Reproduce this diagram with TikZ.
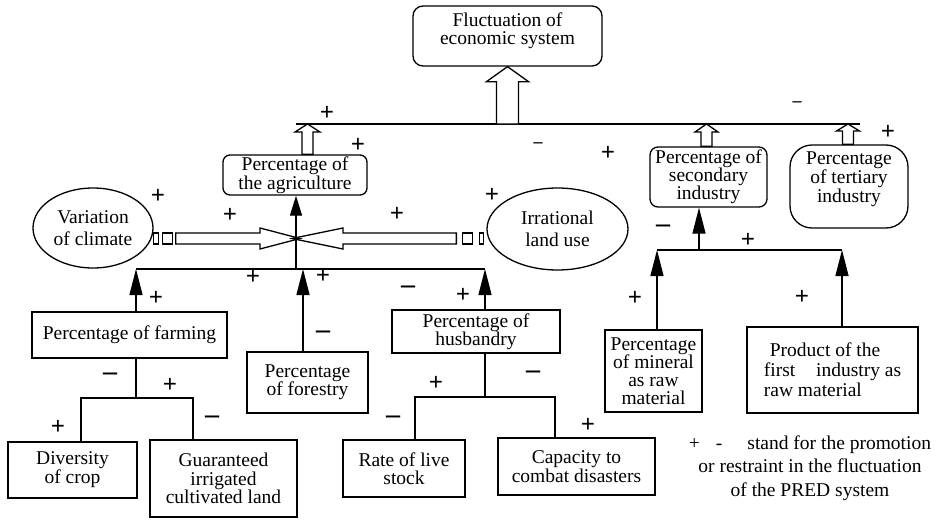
\documentclass[tikz,border=0pt]{standalone}
\usepackage{fontspec}
\setmainfont{Liberation Serif}
\usetikzlibrary{arrows.meta,calc,shapes.geometric}
\newcommand\stk[1]{\begin{tabular}{@{}c@{}}#1\end{tabular}}
\newcommand\liftup[2]{\raisebox{0pt}[\height][\dimexpr\depth+#1\relax]{#2}}
\newcommand\hollowup[5]{\draw[hollow] let \p1=(#1), \p2=(#2) in
  (\x1-#5,\y1) -- (\x1-#5,\y2-#4) -- (\x1-#3,\y2-#4) -- (\x1,\y2) --
  (\x1+#3,\y2-#4) -- (\x1+#5,\y2-#4) -- (\x1+#5,\y1) -- cycle;}
\begin{document}
\begin{tikzpicture}[x=1pt,y=-1pt,
  every node/.style={font=\fontsize{19.5}{18}\selectfont},
  box/.style={draw,line width=1.3pt,inner sep=0pt,align=center},
  rbox/.style={box,rounded corners=8pt},
  oval/.style={draw,line width=1.3pt,ellipse,inner sep=0pt,align=center},
  conn/.style={line width=1.3pt},
  farrow/.style={conn,-{Triangle[width=13pt,length=26pt]}},
  hollow/.style={draw,line width=1.3pt,fill=white,line join=miter},
  hollowx/.style={draw,line width=1.3pt,line join=miter},
  sq/.style={draw,line width=1.2pt,fill=white},
  sgn/.style={font=\fontsize{25}{25}\selectfont\bfseries,inner sep=0pt},
  dsh/.style={font=\fontsize{28}{28}\selectfont\bfseries,inner sep=0pt},
  sdsh/.style={font=\fontsize{18}{18}\selectfont\bfseries,inner sep=0pt},
]
\fill[white] (0,0) rectangle (939,519);

% boxes
\node[rbox,rounded corners=10pt,minimum width=189pt,minimum height=60pt] (top) at (507.5,36)
  {\liftup{10pt}{\stk{Fluctuation of\\economic system}}};
\node[rbox,rounded corners=7pt,minimum width=144pt,minimum height=40pt,font=\fontsize{19.5}{16}\selectfont] (agr) at (295,175)
  {Percentage of\\the agriculture};
\node[rbox,minimum width=117pt,minimum height=60pt] (sec) at (708.5,177)
  {Percentage of\\secondary\\industry};
\node[rbox,rounded corners=22pt,minimum width=118pt,minimum height=83pt] (ter) at (849,186.5)
  {\liftup{14pt}{\stk{Percentage\\of tertiary\\industry}}};
\node[oval,minimum width=120pt,minimum height=80pt,font=\fontsize{19.5}{22}\selectfont] (clim) at (93,228)
  {Variation\\of climate};
\node[oval,minimum width=141pt,minimum height=82pt,font=\fontsize{19.5}{22}\selectfont] (irr) at (557.5,229)
  {Irrational\\land use};
\node[box,minimum width=195pt,minimum height=46pt] (farm) at (129.5,335) {Percentage of farming};
\node[box,minimum width=121pt,minimum height=61pt] (for) at (307.5,382.5) {Percentage\\of forestry};
\node[box,minimum width=168pt,minimum height=43pt] (hus) at (476,331.5) {Percentage of\\husbandry};
\node[box,minimum width=129pt,minimum height=56pt,font=\fontsize{19.5}{19}\selectfont] (div) at (72.5,470) {Diversity\\of crop};
\node[box,minimum width=147pt,minimum height=77pt,font=\fontsize{19.5}{18.5}\selectfont] (gua) at (223.5,478.5) {Guaranteed\\irrigated\\cultivated land};
\node[box,minimum width=122pt,minimum height=57pt,font=\fontsize{19.5}{18}\selectfont] (rate) at (404,468.5) {Rate of live\\stock};
\node[box,minimum width=157pt,minimum height=57pt,font=\fontsize{19.5}{17}\selectfont] (cap) at (576.5,466.5) {Capacity to\\combat disasters};
\node[box,minimum width=97pt,minimum height=82pt] (min) at (653.5,371) {Percentage\\of mineral\\as raw\\material};
\node[box,align=left,minimum width=171pt,minimum height=86pt,font=\fontsize{19.5}{20}\selectfont] (prod) at (832.5,370)
  {\hspace*{6pt}Product of the\\first\hspace{16pt} industry as\\raw material};
\node[align=center,inner sep=0pt,font=\fontsize{19.5}{23.5}\selectfont] (leg) at (810,468)
  {+\hspace{16pt}-\hspace{25pt}stand for the promotion\\or restraint in the fluctuation\\of the PRED system};

% coordinates
\coordinate (L1) at (296,124);
\coordinate (L2) at (860,124);
\coordinate (J) at (296,269);
\coordinate (FL) at (136,269);
\coordinate (HR) at (485,269);
\coordinate (FO) at (303,269);
\coordinate (X) at (296,238.5);
\coordinate (D1) at (81,398);
\coordinate (D2) at (193,398);
\coordinate (E1) at (415,397);
\coordinate (E2) at (555,397);
\coordinate (G1) at (657,250);
\coordinate (G2) at (842,250);
\coordinate (GS) at (699,250);
\coordinate (aA) at ($(agr.north)+(12.5,0)$);
\coordinate (sA) at ($(sec.north)+(-2,0)$);
\coordinate (tA) at ($(ter.north)+(-1,0)$);

% main line and hollow arrows
\draw[conn] (L1) -- (L2);
\hollowup{top.south |- L1}{top.south}{21pt}{15pt}{11pt}
\hollowup{aA}{aA |- L1}{12.5pt}{8pt}{5.5pt}
\hollowup{sA}{sA |- L1}{11.5pt}{8pt}{5.5pt}
\hollowup{tA}{tA |- L1}{11.5pt}{7pt}{5.5pt}

% horizontal hollow arrows
\draw[hollowx] ($(clim.east|-X)+(22,-5.5)$) -- ($(X)+(-36,-5.5)$) -- ($(X)+(-36,-10.5)$) -- ($(X)+(4,0)$)
  -- ($(X)+(-36,10.5)$) -- ($(X)+(-36,5.5)$) -- ($(clim.east|-X)+(22,5.5)$) -- cycle;
\draw[sq] ($(clim.east|-X)+(0,-5.5)$) rectangle ++(4.5,11);
\draw[sq] ($(clim.east|-X)+(9,-5.5)$) rectangle ++(10,11);
\draw[hollowx] ($(irr.west|-X)+(-30,-5.5)$) -- ($(X)+(47,-5.5)$) -- ($(X)+(47,-10.5)$) -- ($(X)+(-4,0)$)
  -- ($(X)+(47,10.5)$) -- ($(X)+(47,5.5)$) -- ($(irr.west|-X)+(-30,5.5)$) -- cycle;
\draw[sq] ($(irr.west|-X)+(-24,-5.5)$) rectangle ++(10,11);
\draw[sq] ($(irr.west|-X)+(-7,-5.5)$) rectangle ++(4,11);

% agriculture connectors
\draw[conn,-{Triangle[width=12pt,length=20pt]}] (J) -- (J |- agr.south);
\draw[conn] (FL) -- (HR);
\draw[farrow] (farm.north -| FL) -- (FL);
\draw[farrow] (for.north -| FO) -- (FO);
\draw[farrow] (hus.north -| HR) -- (HR);

% farming subtree
\draw[conn] (farm.south -| FL) -- (FL |- D1);
\draw[conn] (div.north -| D1) |- (D2) -- (gua.north -| D2);
% husbandry subtree
\draw[conn] (hus.south -| HR) -- (HR |- E1);
\draw[conn] (rate.north -| E1) |- (E2) -- (cap.north -| E2);

% industry
\draw[conn] (G1) -- (G2);
\draw[farrow] (min.north -| G1) -- (G1);
\draw[farrow] (prod.north -| G2) -- (G2);
\draw[farrow] (GS) -- (GS |- sec.south);

% signs
\node[sgn] (s1) at (327,113) {+};
\node[sdsh] (s2) at (797,104) {–};
\node[sgn] (s3) at (358,145) {+};
\node[sdsh] (s4) at (538,145) {–};
\node[sgn] (s5) at (608,153) {+};
\node[sgn] (s6) at (888,132) {+};
\node[sgn] (s7) at (158,196) {+};
\node[sgn] (s8) at (492,195) {+};
\node[sgn] (s9) at (230,215) {+};
\node[sgn] (s10) at (397,214) {+};
\node[sgn] (s11) at (253,277) {+};
\node[sgn] (s12) at (323,276) {+};
\node[sgn] (s13) at (156,298) {+};
\node[dsh] (s14) at (408,290) {–};
\node[sgn] (s15) at (463,295) {+};
\node[dsh] (s16) at (323,335) {–};
\node[dsh] (s17) at (110,377) {–};
\node[sgn] (s18) at (170,385) {+};
\node[sgn] (s19) at (58,427) {+};
\node[dsh] (s20) at (212,420) {–};
\node[sgn] (s21) at (436,383) {+};
\node[dsh] (s22) at (533,375) {–};
\node[dsh] (s23) at (393,420) {–};
\node[sgn] (s24) at (588,425) {+};
\node[dsh] (s25) at (663,229) {–};
\node[sgn] (s26) at (748,240) {+};
\node[sgn] (s27) at (635,298) {+};
\node[sgn] (s28) at (802,297) {+};
\end{tikzpicture}
\end{document}
